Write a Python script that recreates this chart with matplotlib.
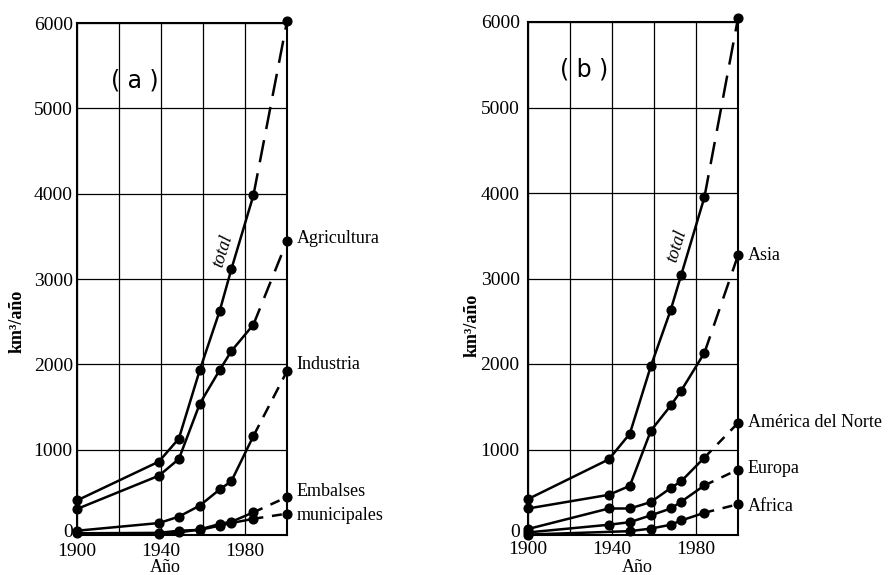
import numpy as np
import matplotlib
matplotlib.use('Agg')
import matplotlib.pyplot as plt
from matplotlib.transforms import ScaledTranslation

# panel (a): use by sector
years_a = [1900, 1939, 1948.5, 1958.5, 1968, 1973.5, 1984, 2000]
total_a = [405, 860, 1130, 1935, 2630, 3115, 3980, 6020]
agricultura = [305, 695, 890, 1540, 1935, 2155, 2465, 3445]
industria = [50, 140, 215, 345, 535, 630, 1160, 1920]
years_emb = [1939, 1948.5, 1958.5, 1968, 1973.5, 1984, 2000]
embalses = [15, 30, 65, 130, 155, 265, 445]
municipales = [20, 25, 50, 60, 110, 140, 190, 250]

# panel (b): use by continent
years_b = [1900, 1938.5, 1948.5, 1958.5, 1968, 1973, 1984, 2000]
total_b = [420, 885, 1185, 1975, 2635, 3045, 3950, 6045]
asia = [310, 470, 575, 1220, 1515, 1690, 2130, 3270]
america_norte = [70, 310, 310, 385, 550, 630, 905, 1310]
europa = [30, 120, 150, 230, 310, 390, 580, 765]
years_africa = [1900, 1948.5, 1958.5, 1968, 1973, 1984, 2000]
africa = [5, 45, 75, 120, 170, 260, 360]

yticks = [0, 1000, 2000, 3000, 4000, 5000, 6000]
xticks = [1900, 1940, 1980]

SERIF = 'Liberation Serif'
W, H = 888, 575


def draw_series(ax, x, y, dashes):
    ax.plot(x[:-1], y[:-1], color='black', lw=1.8, marker='o', ms=6.3, clip_on=False, zorder=3)
    ax.plot(x[-2:], y[-2:], color='black', lw=1.8, dashes=dashes, clip_on=False, zorder=3)
    ax.plot(x[-1:], y[-1:], color='black', marker='o', ms=6.3, ls='none', clip_on=False, zorder=3)


def label_end(ax, x, y, text, dy=0):
    ax.annotate(text, xy=(x[-1], y[-1]), xytext=(7, dy), textcoords='offset points',
                ha='left', va='center', fontsize=13, family=SERIF, annotation_clip=False)


def setup_axes(ax, ypad, xpad):
    ax.set_xlim(1900, 2000)
    ax.set_ylim(0, 6000)
    ax.set_xticks(xticks)
    ax.set_xticks([1920, 1960], minor=True)
    ax.set_yticks(yticks)
    ax.grid(True, which='both', color='black', lw=0.9)
    ax.set_axisbelow(True)
    ax.tick_params(which='both', length=0)
    ax.tick_params(axis='y', pad=ypad)
    ax.tick_params(axis='x', pad=xpad)
    for lab in ax.get_xticklabels() + ax.get_yticklabels():
        lab.set_family(SERIF)
        lab.set_fontsize(14)
    for sp in ax.spines.values():
        sp.set_linewidth(1.5)
    # lift the "0" a little so it clears the 1900 label
    zero = ax.yaxis.get_major_ticks()[0].label1
    zero.set_transform(zero.get_transform() + ScaledTranslation(0, 3 / 72, fig.dpi_scale_trans))


fig = plt.figure(figsize=(W / 100, H / 100), dpi=100)

ax_a = fig.add_axes([77 / W, 40 / H, 210 / W, 512 / H])
setup_axes(ax_a, 3, 6)
draw_series(ax_a, years_a, total_a, (9, 4.5))
draw_series(ax_a, years_a, agricultura, (7, 4.5))
draw_series(ax_a, years_a, industria, (5, 3.5))
draw_series(ax_a, years_emb, embalses, (4, 3.5))
draw_series(ax_a, years_a, municipales, (4, 3.5))
label_end(ax_a, years_a, agricultura, 'Agricultura', 2)
label_end(ax_a, years_a, industria, 'Industria', 5)
label_end(ax_a, years_emb, embalses, 'Embalses', 4)
label_end(ax_a, years_a, municipales, 'municipales', -1)
ax_a.text(1969.2, 3330, 'total', rotation=73, ha='center', va='center',
          fontsize=13, family=SERIF, style='italic')
ax_a.text(1927.5, 5330, '( a )', ha='center', va='center', fontsize=17, family='DejaVu Sans')

ax_b = fig.add_axes([528 / W, 40 / H, 210 / W, 513 / H])
setup_axes(ax_b, 6, 4)
draw_series(ax_b, years_b, total_b, (9, 4.5))
draw_series(ax_b, years_b, asia, (7, 4.5))
draw_series(ax_b, years_b, america_norte, (4, 3.5))
draw_series(ax_b, years_b, europa, (4, 3.5))
draw_series(ax_b, years_africa, africa, (4, 3.5))
label_end(ax_b, years_b, asia, 'Asia', 0)
label_end(ax_b, years_b, america_norte, 'América del Norte', 0)
label_end(ax_b, years_b, europa, 'Europa', 1)
label_end(ax_b, years_africa, africa, 'Africa', -2)
ax_b.text(1970.6, 3385, 'total', rotation=73, ha='center', va='center',
          fontsize=13, family=SERIF, style='italic')
ax_b.text(1926.5, 5450, '( b )', ha='center', va='center', fontsize=17, family='DejaVu Sans')

# axis titles
fig.text(17 / W, 1 - 321 / H, 'km³/año', rotation=90, ha='center', va='center',
         fontsize=13, family=SERIF, fontweight='bold')
fig.text(472 / W, 1 - 325 / H, 'km³/año', rotation=90, ha='center', va='center',
         fontsize=13, family=SERIF, fontweight='bold')
fig.text(165 / W, 1 - 567.5 / H, 'Año', ha='center', va='center', fontsize=13, family=SERIF)
fig.text(637 / W, 1 - 567.5 / H, 'Año', ha='center', va='center', fontsize=13, family=SERIF)

fig.savefig('out.png', dpi=100)
